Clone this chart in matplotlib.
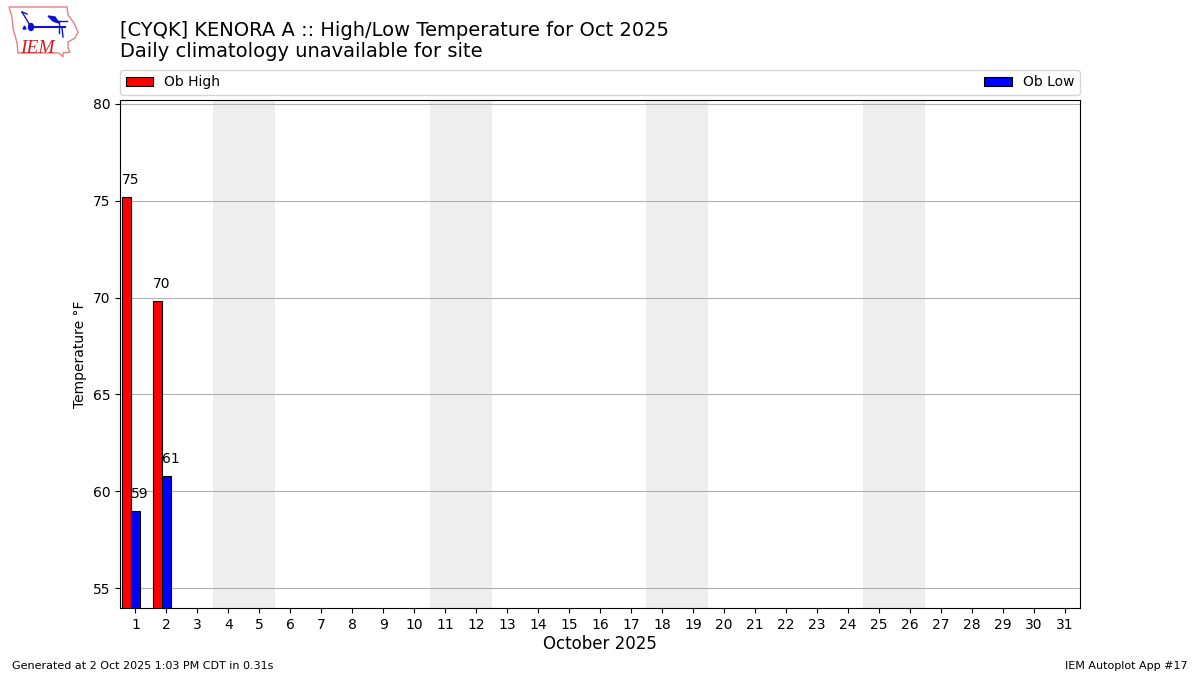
import matplotlib
matplotlib.use('Agg')
import matplotlib.pyplot as plt
from matplotlib.patches import Polygon, Ellipse

# values
days = list(range(1, 32))
ob_days = [1, 2]
ob_high = [75.2, 69.8]
ob_low = [59.0, 60.8]
weekends = [(3.5, 5.5), (10.5, 12.5), (17.5, 19.5), (24.5, 26.5)]

# logo outline in pixels
iowa_x = [9, 67, 68, 74, 78, 75, 68, 68, 70, 63, 63, 59, 18, 17, 13, 12, 9]
iowa_y = [7, 7, 15, 23, 32, 38, 42, 48, 52, 53, 57, 53, 53, 43, 28, 17, 7]
W, H = 1200, 675

fig = plt.figure(figsize=(12, 6.75), dpi=100)
ax = fig.add_axes([120 / W, 1 - 608 / H, 960 / W, 508 / H])

for x0, x1 in weekends:
    ax.axvspan(x0, x1, color='#eeeeee', lw=0, zorder=1)
ax.grid(axis='y', color='#b0b0b0', lw=0.8, zorder=2)

ax.bar([d - 0.3 for d in ob_days], ob_high, width=0.3, color='r', edgecolor='k', lw=0.8, label='Ob High', zorder=3)
ax.bar(ob_days, ob_low, width=0.3, color='b', edgecolor='k', lw=0.8, label='Ob Low', zorder=3)

for d, hi, lo in zip(ob_days, ob_high, ob_low):
    ax.text(d - 0.43, hi + 0.52, f'{hi:.0f}', ha='left', va='bottom', fontsize=10, zorder=4)
    ax.text(d - 0.14, lo + 0.52, f'{lo:.0f}', ha='left', va='bottom', fontsize=10, zorder=4)

ax.set_xlim(0.5, 31.5)
ax.set_ylim(53.97, 80.2)
ax.set_xticks(days)
ax.set_yticks([55, 60, 65, 70, 75, 80])
ax.set_xlabel('October 2025', fontsize=12, labelpad=2.5)
ax.set_ylabel('Temperature °F')
ax.legend(loc='lower left', bbox_to_anchor=(0, 1.01, 1, 0.05), ncol=2, mode='expand', borderaxespad=0)

fig.text(120 / W, 1 - 61 / H, '[CYQK] KENORA A :: High/Low Temperature for Oct 2025\nDaily climatology unavailable for site',
         fontsize=14, va='bottom', linespacing=1.1)
fig.text(12 / W, 1 - 671 / H, 'Generated at 2 Oct 2025 1:03 PM CDT in 0.31s', fontsize=8, va='bottom')
fig.text(1188 / W, 1 - 671 / H, 'IEM Autoplot App #17', fontsize=8, va='bottom', ha='right')

# logo, drawn on a pixel axes
logo = fig.add_axes([0, 0, 1, 1], facecolor='none')
logo.set_xlim(0, W)
logo.set_ylim(H, 0)
logo.axis('off')
logo.add_patch(Polygon(list(zip(iowa_x, iowa_y)), closed=True, fill=False, ec='#e88080', lw=1))
logo.plot([31, 65], [27, 27], color='#1010d0', lw=1.5)
logo.plot([22, 31], [12, 27], color='#1010d0', lw=1)
logo.plot([22, 27], [12, 14], color='#1010d0', lw=1)
logo.plot([59, 59], [21, 33], color='#1010d0', lw=1)
logo.plot([62, 63], [28, 37], color='#1010d0', lw=1)
logo.plot([55, 67], [21, 21], color='#1010d0', lw=1)
logo.add_patch(Polygon([(48, 16), (55, 17), (59, 23), (53, 21)], closed=True, color='#1010d0'))
logo.add_patch(Ellipse((31, 27), 5, 7, color='#1010d0'))
logo.add_patch(Polygon([(23, 29), (26, 29), (24.5, 26)], closed=True, color='#1010d0'))
logo.text(20.5, 53, 'IEM', color='#d02020', fontsize=14, family='Liberation Serif', style='italic', va='baseline')

fig.savefig('out.png', dpi=100)
